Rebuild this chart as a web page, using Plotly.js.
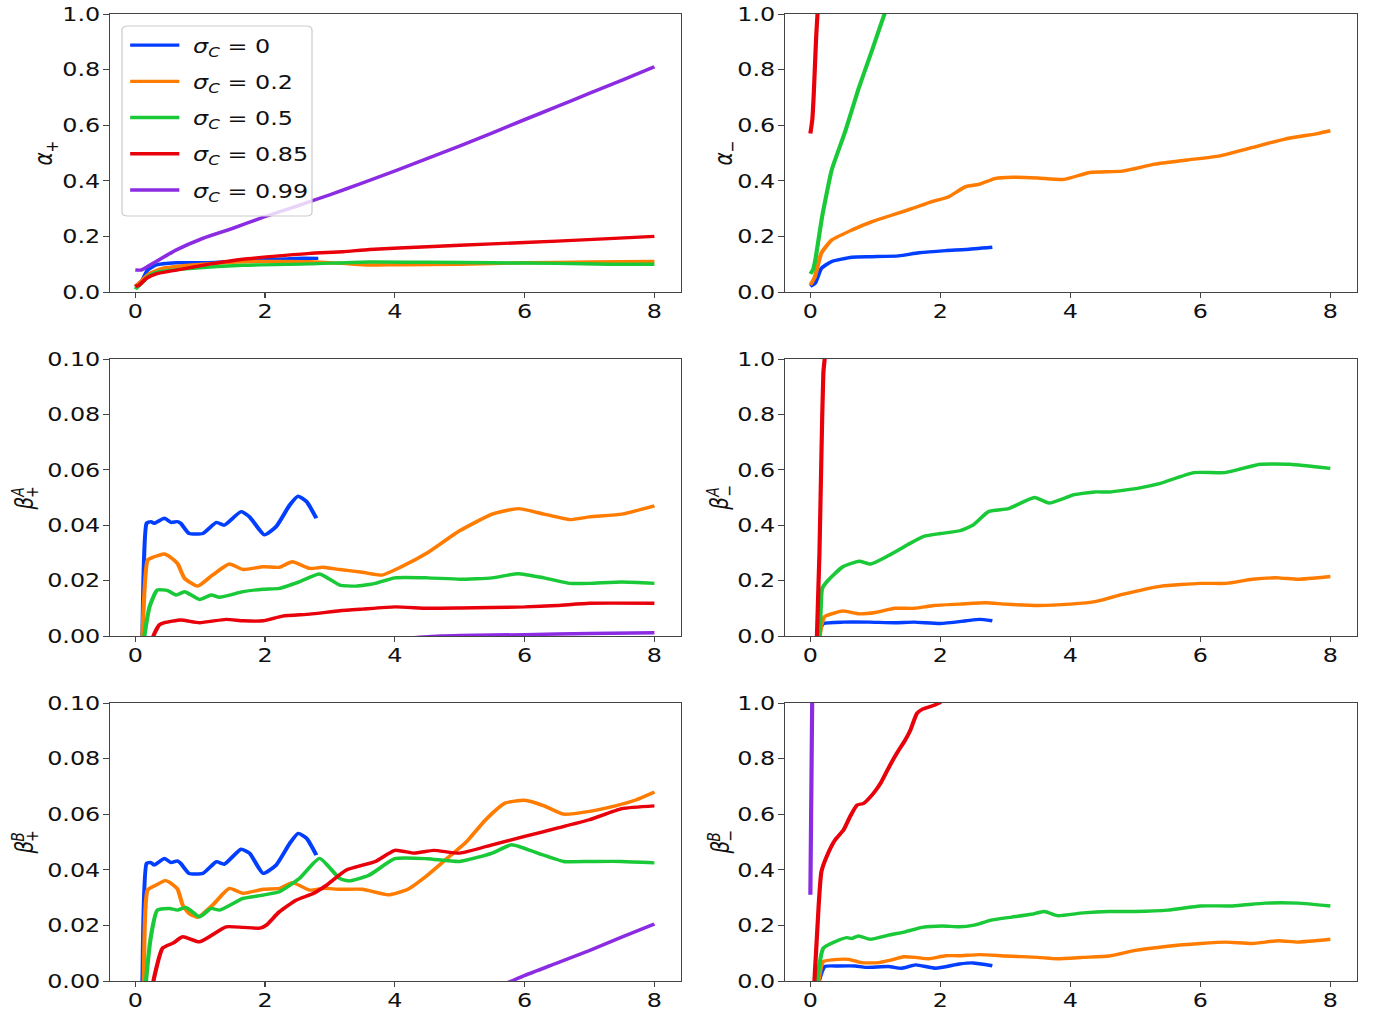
<!DOCTYPE html>
<html>
<head>
<meta charset="utf-8">
<script src="https://cdn.plot.ly/plotly-3.0.1.min.js"></script>
<style>
  html, body { margin: 0; padding: 0; background: #ffffff; overflow: hidden; }
  #chart { width: 1119px; height: 1014px; transform: scaleX(1.22967); transform-origin: 0 0; }
</style>
</head>
<body>
<div id="chart"></div>
<script>
// Legend labels and colours for the five sigma_C values
const sigmaValues = ['0', '0.2', '0.5', '0.85', '0.99'];
const seriesColors = ['#023eff', '#ff7c00', '#1ac938', '#e8000b', '#8b2be2'];

const xTicks = [0, 2, 4, 6, 8];

// ---- alpha_+ : [t, value] pairs ----
const alphaPlus_s0 = [[0,0.019],[0.11,0.043],[0.19,0.079],[0.32,0.097],[0.63,0.105],[1.0,0.105],[1.4,0.109],[1.92,0.115],[2.48,0.121],[2.82,0.121]];
const alphaPlus_s02 = [[0,0.02],[0.11,0.043],[0.22,0.067],[0.42,0.085],[0.88,0.097],[1.66,0.109],[2.69,0.109],[3.2,0.103],[3.61,0.097],[4.0,0.098],[5,0.1],[6,0.105],[7,0.108],[8,0.11]];
const alphaPlus_s05 = [[0,0.01],[0.11,0.035],[0.22,0.06],[0.37,0.073],[0.88,0.085],[1.66,0.096],[2.69,0.101],[3.61,0.108],[4.5,0.107],[5.5,0.105],[6.5,0.103],[7.3,0.1],[8,0.1]];
const alphaPlus_s085 = [[0,0.02],[0.06,0.025],[0.17,0.049],[0.32,0.065],[0.63,0.079],[1.14,0.1],[1.66,0.118],[2.17,0.129],[2.69,0.139],[3.2,0.145],[3.61,0.153],[4.5,0.163],[5.5,0.173],[6.5,0.183],[7.3,0.192],[8,0.2]];
const alphaPlus_s099 = [[0,0.079],[0.09,0.079],[0.27,0.103],[0.63,0.151],[1.04,0.193],[1.5,0.229],[1.97,0.269],[2.5,0.31],[3,0.35],[3.5,0.392],[4,0.435],[4.5,0.48],[5,0.525],[5.5,0.572],[6,0.62],[6.5,0.667],[7,0.715],[7.5,0.762],[8,0.81]];

// ---- alpha_- ----
const alphaMinus_s0 = [[0,0.02],[0.07,0.031],[0.17,0.085],[0.33,0.11],[0.64,0.125],[0.95,0.127],[1.36,0.13],[1.67,0.141],[2.08,0.149],[2.39,0.153],[2.8,0.161]];
const alphaMinus_s02 = [[0,0.025],[0.07,0.055],[0.17,0.14],[0.33,0.187],[0.64,0.223],[0.95,0.253],[1.26,0.277],[1.56,0.3],[1.87,0.325],[2.13,0.343],[2.39,0.379],[2.59,0.387],[2.85,0.409],[3.11,0.413],[3.5,0.41],[3.9,0.405],[4.3,0.43],[4.8,0.435],[5.3,0.46],[5.8,0.475],[6.3,0.49],[6.8,0.52],[7.3,0.55],[7.8,0.57],[8,0.58]];
const alphaMinus_s05 = [[0,0.065],[0.04,0.08],[0.08,0.12],[0.12,0.18],[0.18,0.27],[0.23,0.33],[0.33,0.44],[0.54,0.58],[0.74,0.73],[0.95,0.87],[1.14,1.0],[1.25,1.07]];
const alphaMinus_s085 = [[0,0.57],[0.03,0.62],[0.05,0.7],[0.07,0.81],[0.09,0.92],[0.11,1.0],[0.13,1.1]];

// ---- beta^A_+ ----
const betaAPlus_s0 = [[0.1,-0.003],[0.11,0],[0.175,0.0407],[0.24,0.0413],[0.29,0.0407],[0.45,0.0425],[0.55,0.041],[0.65,0.0413],[0.7,0.0407],[0.83,0.037],[1.04,0.037],[1.25,0.041],[1.37,0.04],[1.63,0.0449],[1.76,0.043],[1.99,0.0365],[2.17,0.0395],[2.38,0.0473],[2.51,0.0505],[2.64,0.0485],[2.79,0.0425]];
const betaAPlus_s02 = [[0.105,-0.003],[0.11,0],[0.19,0.0274],[0.27,0.0284],[0.45,0.0296],[0.53,0.0286],[0.65,0.0262],[0.76,0.0208],[0.96,0.018],[1.19,0.022],[1.45,0.026],[1.66,0.024],[1.97,0.025],[2.22,0.0248],[2.42,0.0268],[2.69,0.0244],[2.89,0.0248],[3.15,0.024],[3.5,0.023],[3.8,0.022],[4.1,0.025],[4.5,0.03],[5.0,0.038],[5.5,0.044],[5.9,0.046],[6.3,0.044],[6.7,0.042],[7.0,0.043],[7.5,0.044],[8,0.047]];
const betaAPlus_s05 = [[0.13,-0.003],[0.14,0],[0.22,0.0106],[0.34,0.0166],[0.5,0.0164],[0.63,0.0148],[0.76,0.016],[0.99,0.0132],[1.17,0.0148],[1.3,0.014],[1.66,0.016],[1.97,0.0169],[2.22,0.0172],[2.53,0.0196],[2.84,0.0224],[3.15,0.0184],[3.4,0.018],[3.7,0.019],[4.0,0.021],[4.5,0.021],[5.0,0.0205],[5.5,0.021],[5.9,0.0225],[6.3,0.021],[6.7,0.019],[7.0,0.019],[7.5,0.0195],[8,0.019]];
const betaAPlus_s085 = [[0.27,-0.003],[0.28,0],[0.37,0.004],[0.45,0.0048],[0.7,0.0058],[0.99,0.0048],[1.4,0.006],[1.66,0.0055],[1.97,0.0055],[2.27,0.0072],[2.69,0.0079],[3.15,0.0091],[3.5,0.0097],[4.0,0.0105],[4.5,0.01],[5.0,0.0101],[6.0,0.0105],[6.5,0.011],[7.0,0.0118],[8,0.0118]];
const betaAPlus_s099 = [[4.3,-0.0006],[4.7,0],[5.0,0.0002],[6.0,0.0005],[7.0,0.0009],[8,0.0012]];

// ---- beta^A_- ----
const betaAMinus_s0 = [[0.13,-0.01],[0.16,0.03],[0.2,0.045],[0.5,0.05],[0.9,0.05],[1.3,0.048],[1.6,0.05],[2.0,0.045],[2.4,0.055],[2.6,0.06],[2.8,0.055]];
const betaAMinus_s02 = [[0.14,-0.01],[0.17,0.04],[0.22,0.07],[0.5,0.09],[0.75,0.08],[1.0,0.085],[1.3,0.1],[1.6,0.1],[1.9,0.11],[2.3,0.115],[2.7,0.12],[3.0,0.115],[3.5,0.11],[4.0,0.115],[4.4,0.125],[4.8,0.15],[5.4,0.18],[6.0,0.19],[6.4,0.19],[6.8,0.205],[7.2,0.21],[7.5,0.205],[8,0.215]];
const betaAMinus_s05 = [[0.14,-0.01],[0.16,0.1],[0.18,0.17],[0.27,0.2],[0.5,0.25],[0.75,0.27],[0.93,0.26],[1.2,0.29],[1.5,0.33],[1.75,0.36],[2.0,0.37],[2.3,0.38],[2.5,0.4],[2.75,0.45],[3.05,0.46],[3.45,0.5],[3.67,0.48],[4.06,0.51],[4.37,0.52],[4.6,0.52],[5.07,0.535],[5.37,0.55],[5.9,0.59],[6.38,0.59],[6.92,0.62],[7.38,0.62],[8,0.605]];
const betaAMinus_s085 = [[0.1,-0.01],[0.14,0.3],[0.17,0.65],[0.2,0.95],[0.22,1.0],[0.25,1.08]];

// ---- beta^B_+ ----
const betaBPlus_s0 = [[0.1,-0.003],[0.11,0],[0.175,0.0423],[0.24,0.0426],[0.29,0.0417],[0.45,0.0441],[0.55,0.0426],[0.65,0.0432],[0.7,0.0423],[0.83,0.0387],[1.04,0.0387],[1.25,0.0429],[1.37,0.042],[1.63,0.0474],[1.76,0.046],[1.97,0.0387],[2.17,0.0417],[2.38,0.0495],[2.51,0.0531],[2.64,0.0513],[2.79,0.0453]];
const betaBPlus_s02 = [[0.12,-0.003],[0.13,0],[0.19,0.0327],[0.32,0.0345],[0.46,0.0361],[0.53,0.0355],[0.65,0.0331],[0.73,0.0273],[0.83,0.0243],[0.96,0.0229],[1.19,0.0273],[1.45,0.0333],[1.66,0.0315],[1.97,0.033],[2.22,0.0333],[2.42,0.0354],[2.69,0.0327],[2.89,0.0333],[3.15,0.033],[3.5,0.033],[3.9,0.031],[4.2,0.033],[4.5,0.038],[4.8,0.044],[5.1,0.05],[5.4,0.058],[5.7,0.064],[6.0,0.065],[6.3,0.063],[6.6,0.06],[7.0,0.061],[7.4,0.063],[7.7,0.065],[8,0.068]];
const betaBPlus_s05 = [[0.155,-0.003],[0.165,0],[0.24,0.0159],[0.34,0.0255],[0.53,0.0261],[0.65,0.0255],[0.78,0.0265],[0.99,0.0231],[1.17,0.0261],[1.3,0.0255],[1.66,0.0297],[1.97,0.0309],[2.22,0.0321],[2.53,0.0369],[2.84,0.0441],[3.15,0.0369],[3.3,0.036],[3.6,0.038],[4.0,0.044],[4.5,0.044],[5.0,0.043],[5.5,0.046],[5.8,0.049],[6.2,0.046],[6.6,0.043],[7.0,0.043],[7.5,0.043],[8,0.0425]];
const betaBPlus_s085 = [[0.27,-0.003],[0.28,0],[0.42,0.0118],[0.58,0.0136],[0.73,0.0159],[0.99,0.0141],[1.4,0.0195],[1.66,0.0193],[1.92,0.019],[2.02,0.0201],[2.22,0.0249],[2.48,0.0291],[2.74,0.0315],[2.95,0.0345],[3.25,0.0399],[3.7,0.043],[4.0,0.047],[4.3,0.046],[4.6,0.047],[5.0,0.046],[5.5,0.049],[6.0,0.052],[6.5,0.055],[7.0,0.058],[7.5,0.062],[8,0.063]];
const betaBPlus_s099 = [[5.6,-0.002],[5.8,0],[6.0,0.002],[6.5,0.0065],[7.0,0.011],[7.5,0.0158],[8,0.0205]];

// ---- beta^B_- ----
const betaBMinus_s0 = [[0.12,-0.01],[0.22,0.052],[0.43,0.054],[0.69,0.054],[0.85,0.049],[1.2,0.052],[1.41,0.046],[1.62,0.058],[1.93,0.046],[2.29,0.061],[2.5,0.065],[2.8,0.055]];
const betaBMinus_s02 = [[0.12,-0.01],[0.2,0.07],[0.43,0.078],[0.59,0.078],[0.79,0.066],[1.05,0.066],[1.2,0.073],[1.44,0.087],[1.62,0.085],[1.82,0.08],[2.08,0.091],[2.29,0.091],[2.6,0.095],[3.0,0.09],[3.5,0.085],[3.8,0.08],[4.2,0.085],[4.6,0.09],[5.0,0.11],[5.5,0.125],[6.0,0.135],[6.4,0.14],[6.8,0.135],[7.2,0.145],[7.5,0.14],[8,0.15]];
const betaBMinus_s05 = [[0.1,-0.01],[0.2,0.118],[0.38,0.141],[0.56,0.156],[0.64,0.153],[0.74,0.162],[0.92,0.15],[1.2,0.165],[1.46,0.177],[1.72,0.193],[2.03,0.198],[2.29,0.195],[2.5,0.2],[2.8,0.22],[3.1,0.23],[3.4,0.24],[3.6,0.25],[3.8,0.235],[4.2,0.245],[4.6,0.25],[5.0,0.25],[5.5,0.255],[6.0,0.27],[6.5,0.27],[7.0,0.28],[7.5,0.28],[8,0.27]];
const betaBMinus_s085 = [[0.06,-0.01],[0.13,0.28],[0.17,0.393],[0.25,0.447],[0.38,0.507],[0.51,0.543],[0.61,0.591],[0.72,0.633],[0.82,0.639],[0.97,0.675],[1.08,0.711],[1.2,0.765],[1.33,0.819],[1.46,0.867],[1.54,0.903],[1.64,0.963],[1.72,0.977],[1.87,0.989],[1.98,1.0],[2.1,1.02]];
const betaBMinus_s099 = [[0,0.31],[0.01,0.55],[0.02,0.8],[0.03,1.05]];

// Panels in reading order; each holds one curve per sigma value (null = not drawn)
const panels = [
  { curves: [alphaPlus_s0, alphaPlus_s02, alphaPlus_s05, alphaPlus_s085, alphaPlus_s099], yMax: 1.0, yStep: 0.2, yFormat: '.1f' },
  { curves: [alphaMinus_s0, alphaMinus_s02, alphaMinus_s05, alphaMinus_s085, null], yMax: 1.0, yStep: 0.2, yFormat: '.1f' },
  { curves: [betaAPlus_s0, betaAPlus_s02, betaAPlus_s05, betaAPlus_s085, betaAPlus_s099], yMax: 0.1, yStep: 0.02, yFormat: '.2f' },
  { curves: [betaAMinus_s0, betaAMinus_s02, betaAMinus_s05, betaAMinus_s085, null], yMax: 1.0, yStep: 0.2, yFormat: '.1f' },
  { curves: [betaBPlus_s0, betaBPlus_s02, betaBPlus_s05, betaBPlus_s085, betaBPlus_s099], yMax: 0.1, yStep: 0.02, yFormat: '.2f' },
  { curves: [betaBMinus_s0, betaBMinus_s02, betaBMinus_s05, betaBMinus_s085, betaBMinus_s099], yMax: 1.0, yStep: 0.2, yFormat: '.1f' }
];

// ---- geometry (figure pixels, 1376 x 1014) ----
const FIG_W = 1376, FIG_H = 1014;
const colEdges = [[110, 681], [785, 1357]];
const rowEdges = [[14, 292], [359, 636], [703, 981]];
const px = v => v / FIG_W;
const py = v => 1 - v / FIG_H;

const FONT = 'DejaVu Sans';
const FONT_SIZE = 19.4;
const AXIS_COLOR = '#444444';

const traces = [];
panels.forEach((panel, p) => {
  const suffix = p === 0 ? '' : String(p + 1);
  panel.curves.forEach((pts, s) => {
    if (!pts) return;
    traces.push({
      type: 'scatter',
      mode: 'lines',
      x: pts.map(d => d[0]),
      y: pts.map(d => d[1]),
      xaxis: 'x' + suffix,
      yaxis: 'y' + suffix,
      name: '\u00a0<i>σ</i><sub><i>C</i></sub> = ' + sigmaValues[s],
      legendgroup: 'sigma' + s,
      showlegend: p === 0,
      line: { color: seriesColors[s], width: 3.4, shape: 'spline', smoothing: 0.5 },
      hoverinfo: 'skip'
    });
  });
});

const layout = {
  width: 1119,
  height: 1014,
  margin: { l: 0, r: 0, t: 0, b: 0 },
  paper_bgcolor: '#ffffff',
  plot_bgcolor: '#ffffff',
  font: { family: FONT, size: FONT_SIZE, color: '#111111' },
  showlegend: true,
  legend: {
    x: px(124), y: py(26), xanchor: 'left', yanchor: 'top',
    bgcolor: 'rgba(0,0,0,0)', borderwidth: 0,
    font: { family: FONT, size: FONT_SIZE, color: '#111111' },
    traceorder: 'grouped', tracegroupgap: 8, itemwidth: 40
  },
  shapes: [],
  annotations: []
};

panels.forEach((panel, p) => {
  const suffix = p === 0 ? '' : String(p + 1);
  const col = p % 2, row = Math.floor(p / 2);
  const [x0, x1] = colEdges[col];
  const [y0, y1] = rowEdges[row];
  const yTicks = [];
  for (let k = 0; k <= Math.round(panel.yMax / panel.yStep); k++) yTicks.push(+(k * panel.yStep).toFixed(3));
  layout['xaxis' + suffix] = {
    domain: [px(x0), px(x1)], anchor: 'y' + suffix,
    range: [-0.39, 8.41], tickvals: xTicks, ticktext: xTicks.map(String),
    ticks: 'outside', ticklen: 5, tickwidth: 1, tickcolor: AXIS_COLOR,
    showline: true, mirror: true, linecolor: AXIS_COLOR, linewidth: 1,
    showgrid: false, zeroline: false, fixedrange: true,
    tickfont: { family: FONT, size: FONT_SIZE, color: '#111111' }, ticklabelstandoff: -3
  };
  layout['yaxis' + suffix] = {
    domain: [py(y1), py(y0)], anchor: 'x' + suffix,
    range: [0, panel.yMax], tickvals: yTicks, tickformat: panel.yFormat,
    ticks: 'outside', ticklen: 5, tickwidth: 1, tickcolor: AXIS_COLOR,
    showline: true, mirror: true, linecolor: AXIS_COLOR, linewidth: 1,
    showgrid: false, zeroline: false, fixedrange: true,
    tickfont: { family: FONT, size: FONT_SIZE, color: '#111111' }, ticklabelstandoff: -2
  };
});

// y-axis labels, rotated; the beta labels stack their super- and subscripts
function label(text, x, y, size) {
  layout.annotations.push({
    xref: 'paper', yref: 'paper', x: px(x), y: py(y),
    text: text, showarrow: false, textangle: -90,
    xanchor: 'center', yanchor: 'middle',
    font: { family: FONT, size: size, color: '#111111' }
  });
}
label('<i>α</i><sub>+</sub>', 45, 153, 20);
label('<i>α</i><sub>−</sub>', 725, 153, 20);
label('<i>β</i>', 24, 504, 20); label('<i>A</i>', 18, 492, 14); label('+', 32, 492, 14);
label('<i>β</i>', 719, 504, 20); label('<i>A</i>', 713, 492, 14); label('−', 729, 491, 14);
label('<i>β</i>', 24, 848, 20); label('<i>B</i>', 18, 837, 14); label('+', 32, 836, 14);
label('<i>β</i>', 720, 848, 20); label('<i>B</i>', 714, 837, 14); label('−', 730, 836, 14);

// rounded, semi-transparent legend frame
(function () {
  const L = px(122), R = px(312), T = py(26), B = py(216);
  const rx = 6 / FIG_W, ry = 4 / FIG_H;
  const path = `M${L + rx},${T} L${R - rx},${T} Q${R},${T} ${R},${T - ry} L${R},${B + ry} Q${R},${B} ${R - rx},${B} ` +
               `L${L + rx},${B} Q${L},${B} ${L},${B + ry} L${L},${T - ry} Q${L},${T} ${L + rx},${T} Z`;
  layout.shapes.push({
    type: 'path', xref: 'paper', yref: 'paper', path: path, layer: 'above',
    line: { color: '#cccccc', width: 1 }, fillcolor: 'rgba(255,255,255,0.8)'
  });
})();

Plotly.newPlot('chart', traces, layout, { displayModeBar: false, staticPlot: true });
</script>
</body>
</html>
